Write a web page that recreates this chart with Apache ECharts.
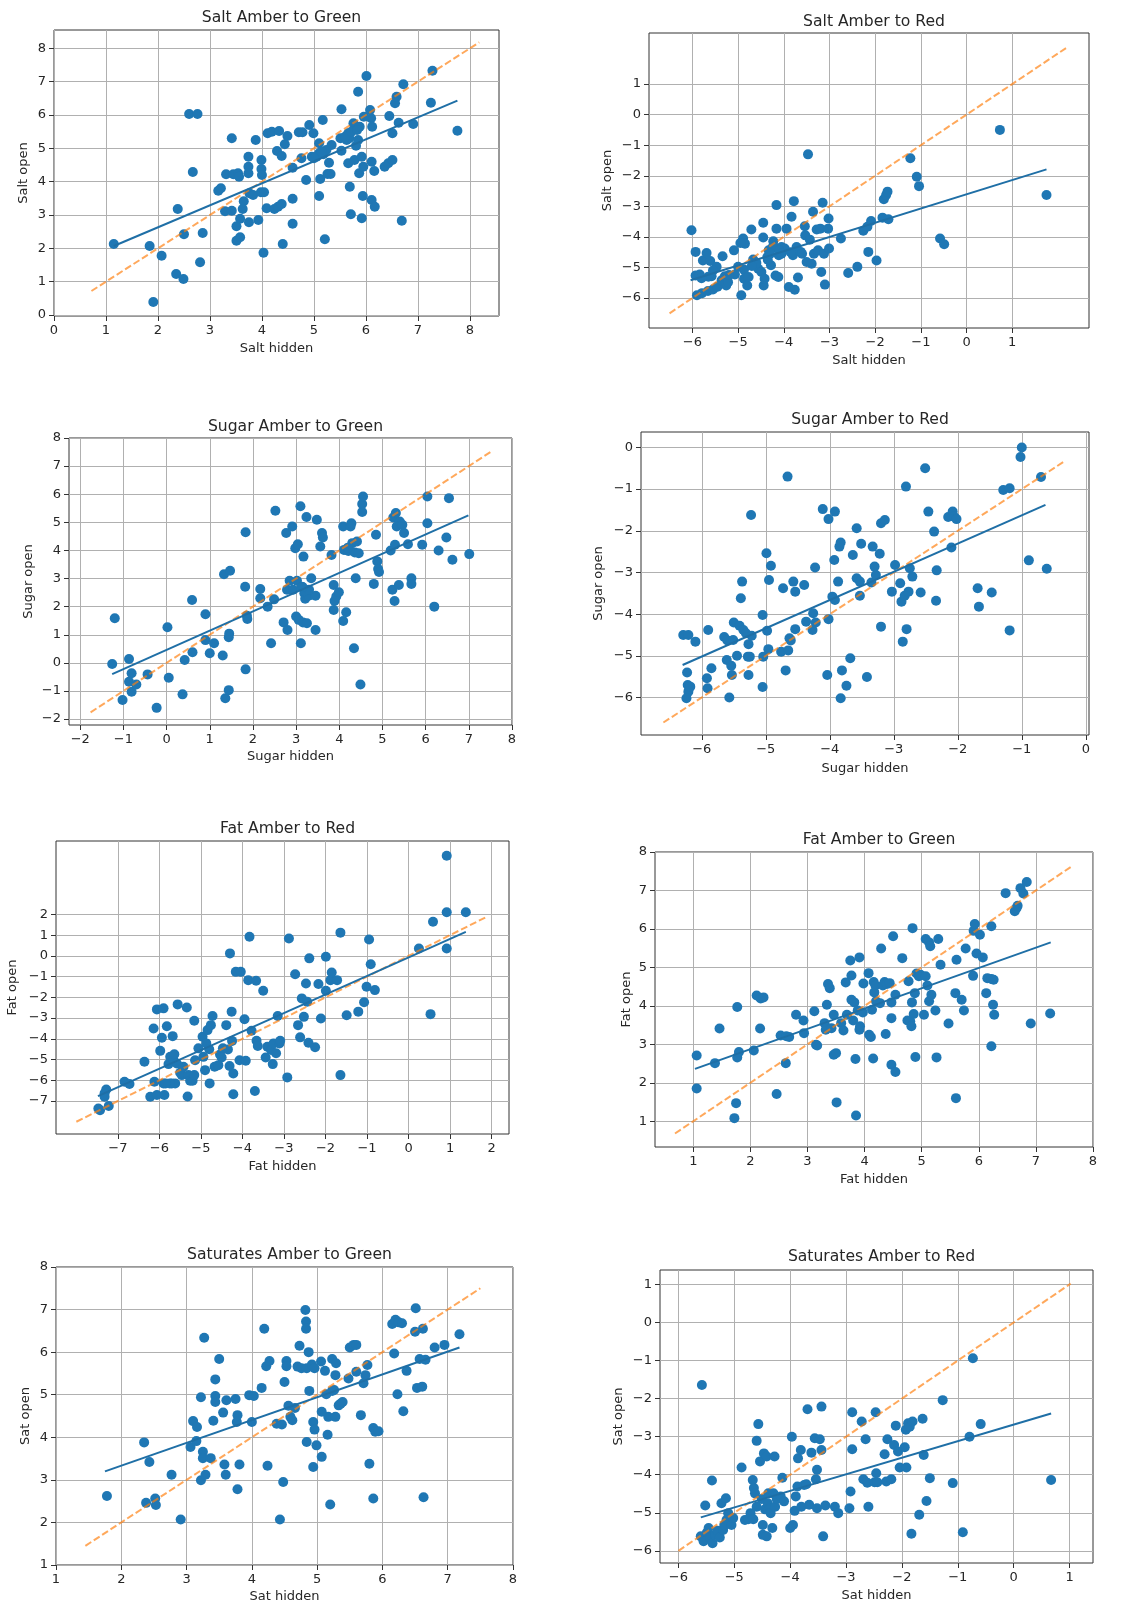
<!DOCTYPE html>
<html>
<head>
<meta charset="utf-8">
<script src="https://cdn.jsdelivr.net/npm/echarts@6/dist/echarts.min.js"></script>
<style>
  html, body { margin: 0; padding: 0; background: #ffffff; }
  #chart { width: 1125px; height: 1608px; }
</style>
</head>
<body>
<div id="chart"></div>
<script>
// ---- Observations: [hidden, open] pairs per panel ----
const saltGreen = [[1.15,2.13],[1.84,2.07],[2.07,1.78],[1.91,0.39],[2.35,1.23],[2.49,1.08],[2.38,3.18],[2.50,2.42],[2.60,6.03],[2.76,6.03],[2.67,4.29],[2.81,1.58],[2.86,2.46],[3.16,3.73],[3.21,3.80],[3.31,4.22],[3.42,5.30],[3.29,3.11],[3.42,3.13],[3.45,4.22],[3.54,4.25],[3.56,4.15],[3.51,2.66],[3.51,2.23],[3.58,2.33],[3.58,2.89],[3.65,3.41],[3.63,3.18],[3.74,4.75],[3.74,4.45],[3.74,4.25],[3.76,3.65],[3.75,2.78],[3.88,5.25],[3.83,3.60],[3.93,2.85],[3.98,3.68],[3.99,4.65],[3.99,4.38],[4.04,3.68],[4.03,1.87],[4.09,3.20],[4.11,5.45],[4.19,5.50],[4.24,3.18],[4.29,4.92],[4.33,5.52],[4.31,3.25],[4.38,3.33],[4.38,4.77],[4.40,2.13],[4.44,5.12],[4.49,5.37],[4.59,4.42],[4.59,3.49],[4.59,2.74],[4.71,5.48],[4.78,5.48],[4.76,4.70],[4.85,4.05],[4.91,5.70],[4.99,5.45],[4.96,4.75],[5.10,5.15],[5.10,4.85],[5.12,4.08],[5.10,3.57],[5.17,5.85],[5.18,4.82],[5.21,2.27],[5.24,4.95],[5.26,4.23],[5.32,4.23],[5.29,4.57],[5.34,5.10],[5.53,6.17],[5.51,5.30],[5.53,4.93],[5.63,5.25],[5.66,5.45],[5.68,5.30],[5.66,4.55],[5.69,3.85],[5.71,3.02],[5.76,5.75],[5.78,4.65],[5.85,6.70],[5.81,5.08],[5.85,5.25],[5.88,5.65],[5.87,4.25],[5.92,4.75],[5.92,2.90],[5.94,3.57],[5.96,5.95],[5.95,4.45],[6.01,7.17],[6.08,6.15],[6.10,5.90],[6.11,4.60],[6.12,5.65],[6.11,3.45],[6.16,4.32],[6.17,3.25],[6.36,4.45],[6.43,4.55],[6.45,5.97],[6.51,4.65],[6.51,5.45],[6.56,6.35],[6.59,6.55],[6.63,5.77],[6.69,2.83],[6.72,6.92],[6.91,5.73],[7.28,7.33],[7.25,6.37],[7.76,5.53],[5.05,4.75],[5.15,4.90],[5.60,5.35],[5.72,5.50],[5.83,5.55],[4.00,4.20],[5.00,4.70]];
const saltRed = [[-6.02,-3.78],[-5.93,-4.49],[-5.93,-5.26],[-5.90,-5.91],[-5.84,-5.23],[-5.79,-5.84],[-5.77,-4.77],[-5.69,-4.53],[-5.66,-5.77],[-5.61,-4.79],[-5.58,-5.29],[-5.55,-5.72],[-5.47,-4.98],[-5.45,-5.63],[-5.36,-5.42],[-5.34,-4.63],[-5.29,-5.29],[-5.26,-5.59],[-5.22,-5.48],[-5.09,-4.44],[-5.07,-5.23],[-5.00,-4.98],[-4.89,-4.05],[-4.85,-4.22],[-4.87,-5.07],[-4.87,-5.37],[-4.93,-5.91],[-4.80,-5.59],[-4.77,-5.31],[-4.71,-3.76],[-4.67,-4.74],[-4.64,-4.88],[-4.56,-5.04],[-4.49,-5.15],[-4.45,-3.54],[-4.45,-4.02],[-4.44,-5.59],[-4.42,-5.37],[-4.36,-4.66],[-4.33,-4.44],[-4.28,-4.93],[-4.23,-4.14],[-4.21,-4.33],[-4.18,-5.26],[-4.16,-2.96],[-4.16,-3.73],[-4.12,-5.31],[-4.11,-4.60],[-4.05,-4.33],[-3.98,-4.38],[-3.94,-3.73],[-3.89,-5.64],[-3.83,-3.34],[-3.80,-4.60],[-3.78,-2.83],[-3.76,-5.73],[-3.72,-4.33],[-3.69,-5.33],[-3.63,-4.49],[-3.54,-3.65],[-3.53,-3.95],[-3.50,-4.82],[-3.47,-1.30],[-3.43,-4.09],[-3.39,-4.88],[-3.36,-3.18],[-3.34,-4.55],[-3.28,-3.76],[-3.25,-4.44],[-3.20,-3.73],[-3.18,-5.15],[-3.15,-2.88],[-3.12,-4.55],[-3.10,-5.56],[-3.03,-3.73],[-3.02,-3.40],[-3.01,-4.38],[-2.75,-4.05],[-2.59,-5.18],[-2.39,-4.98],[-2.26,-3.80],[-2.17,-3.67],[-2.15,-4.49],[-2.09,-3.48],[-1.97,-4.77],[-1.84,-3.37],[-1.81,-2.77],[-1.76,-2.63],[-1.73,-2.52],[-1.71,-3.42],[-1.23,-1.43],[-1.09,-2.03],[-1.04,-2.34],[-0.58,-4.05],[-0.49,-4.24],[0.73,-0.50],[1.75,-2.63],[-4.25,-4.35],[-4.10,-4.45],[-4.35,-4.75],[-4.60,-4.85],[-4.05,-4.55],[-3.85,-4.50],[-3.60,-4.55],[-5.55,-5.10],[-5.65,-5.30],[-5.80,-5.35],[-4.95,-4.20],[-4.70,-4.95],[-5.20,-5.25],[-4.30,-4.55]];
const sugarGreen = [[-1.26,-0.04],[-1.20,1.59],[-1.02,-1.32],[-0.87,0.14],[-0.87,-0.67],[-0.81,-0.37],[-0.81,-1.03],[-0.70,-0.77],[-0.44,-0.41],[-0.23,-1.60],[0.02,1.27],[0.05,-0.53],[0.37,-1.12],[0.42,0.10],[0.59,2.24],[0.60,0.38],[0.90,1.73],[0.90,0.81],[1.00,0.34],[1.10,0.70],[1.30,0.26],[1.33,3.15],[1.36,-1.26],[1.47,3.28],[1.44,-0.97],[1.44,0.91],[1.45,1.04],[1.82,2.71],[1.83,4.65],[1.83,-0.23],[1.86,1.68],[1.87,1.56],[2.17,2.30],[2.17,2.63],[2.34,2.00],[2.42,0.70],[2.49,2.26],[2.52,5.41],[2.71,1.44],[2.77,4.62],[2.79,2.60],[2.80,1.17],[2.85,2.92],[2.91,4.85],[2.93,2.60],[2.98,4.08],[3.00,1.65],[3.04,4.22],[3.02,2.92],[3.06,1.53],[3.10,5.57],[3.11,0.70],[3.13,2.71],[3.16,1.44],[3.17,3.78],[3.19,2.48],[3.21,2.28],[3.24,5.19],[3.25,1.41],[3.29,2.39],[3.35,3.01],[3.45,1.17],[3.45,2.39],[3.48,5.09],[3.56,4.14],[3.60,4.62],[3.62,4.46],[3.82,3.84],[3.87,1.88],[3.87,2.77],[3.89,2.20],[3.93,2.36],[3.99,2.51],[4.09,1.49],[4.09,4.85],[4.11,4.02],[4.16,1.80],[4.21,3.98],[4.26,4.85],[4.28,4.97],[4.30,4.26],[4.34,0.52],[4.36,3.93],[4.38,3.01],[4.41,4.32],[4.45,3.90],[4.49,-0.77],[4.53,5.37],[4.53,5.65],[4.55,5.92],[4.80,2.81],[4.85,4.56],[4.88,3.61],[4.90,3.34],[4.92,3.23],[5.19,4.00],[5.23,2.60],[5.25,5.17],[5.28,2.20],[5.29,4.20],[5.31,5.33],[5.33,4.85],[5.38,2.77],[5.40,5.03],[5.46,4.91],[5.50,4.62],[5.59,4.22],[5.67,3.01],[5.67,2.81],[5.92,4.20],[6.04,5.92],[6.04,4.97],[6.20,2.00],[6.30,4.00],[6.48,4.46],[6.54,5.86],[6.62,3.67],[7.01,3.87],[3.20,2.55],[3.30,2.60],[4.20,4.10],[3.15,2.70]];
const sugarRed = [[-6.29,-4.50],[-6.21,-4.50],[-6.23,-5.40],[-6.22,-5.70],[-6.21,-5.86],[-6.18,-5.74],[-6.24,-6.02],[-6.10,-4.66],[-5.90,-4.38],[-5.92,-5.54],[-5.91,-5.78],[-5.85,-5.30],[-5.65,-4.55],[-5.61,-5.10],[-5.60,-4.63],[-5.57,-6.00],[-5.54,-5.24],[-5.53,-5.46],[-5.51,-4.62],[-5.50,-4.20],[-5.45,-5.00],[-5.41,-4.28],[-5.39,-3.62],[-5.37,-3.22],[-5.35,-4.38],[-5.31,-4.46],[-5.28,-5.02],[-5.27,-4.72],[-5.27,-5.46],[-5.25,-5.02],[-5.23,-1.62],[-5.22,-4.52],[-5.05,-4.02],[-5.04,-5.02],[-5.05,-5.75],[-4.99,-2.54],[-4.98,-4.40],[-4.96,-4.84],[-4.95,-3.18],[-4.92,-2.84],[-4.73,-3.38],[-4.76,-4.90],[-4.69,-5.35],[-4.66,-0.70],[-4.65,-4.87],[-4.63,-4.58],[-4.61,-4.63],[-4.57,-3.22],[-4.54,-3.46],[-4.54,-4.36],[-4.40,-3.30],[-4.37,-4.18],[-4.27,-4.38],[-4.26,-3.98],[-4.23,-2.88],[-4.22,-4.20],[-4.11,-1.48],[-4.04,-5.46],[-4.02,-1.72],[-4.02,-4.12],[-3.96,-3.58],[-3.93,-2.70],[-3.92,-1.54],[-3.92,-3.66],[-3.87,-3.22],[-3.85,-2.38],[-3.83,-2.28],[-3.83,-6.02],[-3.81,-5.35],[-3.74,-5.72],[-3.68,-5.06],[-3.64,-2.58],[-3.58,-1.94],[-3.58,-3.14],[-3.53,-3.56],[-3.53,-3.22],[-3.51,-2.31],[-3.42,-5.51],[-3.35,-3.24],[-3.33,-2.38],[-3.30,-2.86],[-3.28,-3.06],[-3.22,-2.55],[-3.20,-4.30],[-3.20,-1.82],[-3.14,-1.74],[-3.03,-3.46],[-2.98,-2.82],[-2.90,-3.26],[-2.88,-3.70],[-2.86,-4.66],[-2.83,-3.56],[-2.81,-0.94],[-2.80,-4.36],[-2.77,-3.46],[-2.75,-2.90],[-2.71,-3.10],[-2.58,-3.48],[-2.51,-0.50],[-2.46,-1.54],[-2.37,-2.02],[-2.34,-3.68],[-2.33,-2.95],[-2.15,-1.67],[-2.10,-2.40],[-2.08,-1.54],[-2.06,-1.66],[-2.02,-1.72],[-1.69,-3.38],[-1.67,-3.82],[-1.47,-3.48],[-1.29,-1.02],[-1.19,-0.98],[-1.19,-4.39],[-1.02,-0.23],[-1.00,0.00],[-0.89,-2.71],[-0.70,-0.71],[-0.61,-2.91]];
const fatRed = [[-7.47,-7.36],[-7.43,-7.44],[-7.32,-6.63],[-7.28,-6.44],[-7.22,-7.24],[-7.32,-6.79],[-6.84,-6.07],[-6.72,-6.18],[-6.36,-5.11],[-6.22,-6.79],[-6.14,-3.50],[-6.12,-6.07],[-6.06,-2.58],[-6.06,-6.71],[-5.98,-4.58],[-5.94,-3.95],[-5.90,-2.53],[-5.90,-6.15],[-5.88,-6.71],[-5.82,-3.39],[-5.78,-5.22],[-5.74,-4.87],[-5.70,-6.15],[-5.68,-3.87],[-5.66,-5.03],[-5.64,-4.74],[-5.62,-6.15],[-5.58,-5.19],[-5.56,-2.34],[-5.50,-5.64],[-5.46,-5.75],[-5.42,-5.35],[-5.34,-2.49],[-5.32,-6.78],[-5.30,-5.75],[-5.26,-6.02],[-5.20,-6.02],[-5.16,-3.13],[-5.16,-5.75],[-5.14,-5.03],[-5.06,-4.46],[-4.96,-3.90],[-4.94,-4.87],[-4.90,-5.51],[-4.87,-4.22],[-4.84,-3.58],[-4.79,-6.15],[-4.76,-3.34],[-4.72,-2.90],[-4.67,-5.35],[-4.58,-5.27],[-4.54,-4.76],[-4.47,-4.46],[-4.39,-3.34],[-4.35,-4.51],[-4.31,-5.31],[-4.30,0.12],[-4.26,-2.69],[-4.22,-5.67],[-4.22,-6.67],[-4.16,-0.77],[-4.04,-0.77],[-4.07,-5.03],[-3.95,-3.06],[-3.92,-5.06],[-3.86,-1.17],[-3.83,0.92],[-3.78,-3.61],[-3.70,-6.52],[-3.67,-1.20],[-3.66,-4.09],[-3.63,-4.35],[-3.50,-1.68],[-3.44,-4.90],[-3.40,-4.38],[-3.31,-4.54],[-3.27,-5.22],[-3.25,-4.22],[-3.19,-4.70],[-3.15,-2.90],[-3.11,-4.22],[-3.09,-4.09],[-2.92,-5.86],[-2.88,0.84],[-2.73,-0.89],[-2.66,-3.34],[-2.61,-3.93],[-2.57,-2.05],[-2.52,-2.94],[-2.47,-1.33],[-2.44,-2.21],[-2.41,-4.19],[-2.39,-0.12],[-2.25,-4.41],[-2.17,-1.36],[-2.11,-3.02],[-1.99,-0.04],[-1.99,-1.68],[-1.88,-1.17],[-1.85,-0.80],[-1.72,-1.17],[-1.64,1.12],[-1.64,-5.75],[-1.49,-2.86],[-1.21,-2.69],[-1.07,-2.24],[-1.01,-1.49],[-0.95,0.79],[-0.91,-0.40],[-0.81,-1.65],[0.25,0.36],[0.53,-2.81],[0.59,1.65],[0.92,4.83],[0.92,2.10],[0.92,0.36],[1.38,2.10],[-5.75,-6.15],[-5.85,-6.15],[-4.80,-4.50],[-4.50,-4.90],[-4.25,-4.10]];
const fatGreen = [[1.06,2.71],[1.06,1.85],[1.38,2.51],[1.46,3.41],[1.72,1.08],[1.75,1.47],[1.77,3.97],[1.77,2.66],[1.80,2.80],[2.06,2.84],[2.11,4.27],[2.17,3.41],[2.18,4.19],[2.23,4.22],[2.46,1.71],[2.53,3.23],[2.62,2.51],[2.63,3.21],[2.68,3.19],[2.80,3.77],[2.93,3.62],[2.94,3.29],[3.12,3.86],[3.15,2.99],[3.17,2.97],[3.30,3.55],[3.32,3.38],[3.34,4.03],[3.36,4.57],[3.39,4.46],[3.42,3.42],[3.46,2.73],[3.46,3.77],[3.50,2.77],[3.51,1.49],[3.59,3.55],[3.63,3.36],[3.67,4.61],[3.69,3.77],[3.75,5.18],[3.77,4.79],[3.77,4.16],[3.80,3.62],[3.82,4.09],[3.84,2.62],[3.85,1.15],[3.88,3.88],[3.91,5.26],[3.91,3.38],[3.92,3.47],[3.97,3.83],[3.98,4.58],[4.07,4.85],[4.08,3.25],[4.11,3.19],[4.13,3.90],[4.15,2.63],[4.16,4.62],[4.17,4.35],[4.19,4.53],[4.20,4.12],[4.27,4.07],[4.29,5.49],[4.32,4.53],[4.35,4.62],[4.37,3.27],[4.39,4.57],[4.44,4.59],[4.47,4.09],[4.47,3.68],[4.47,2.47],[4.50,5.81],[4.54,2.28],[4.54,4.29],[4.66,5.24],[4.75,3.62],[4.77,4.64],[4.80,3.60],[4.82,3.47],[4.83,4.09],[4.84,6.02],[4.86,3.79],[4.88,4.33],[4.89,2.67],[4.91,4.84],[4.95,4.77],[4.98,4.81],[5.04,3.77],[5.07,5.74],[5.07,4.77],[5.10,4.53],[5.13,5.65],[5.13,4.12],[5.15,5.55],[5.17,4.29],[5.24,3.88],[5.26,2.66],[5.29,5.74],[5.33,5.07],[5.47,3.54],[5.59,4.33],[5.60,1.60],[5.61,5.20],[5.70,4.16],[5.74,3.88],[5.77,5.49],[5.90,4.78],[5.91,5.95],[5.93,6.13],[5.96,5.36],[6.02,5.85],[6.07,5.26],[6.13,4.33],[6.15,4.72],[6.22,6.07],[6.22,4.70],[6.22,2.95],[6.25,4.03],[6.26,4.68],[6.27,3.77],[6.47,6.93],[6.63,6.46],[6.66,6.54],[6.68,6.60],[6.73,7.06],[6.78,6.92],[6.84,7.22],[6.91,3.54],[7.25,3.80]];
const satGreen = [[1.78,2.62],[2.35,3.88],[2.38,2.46],[2.43,3.42],[2.52,2.56],[2.53,2.41],[2.77,3.12],[2.91,2.07],[3.06,3.77],[3.10,4.38],[3.15,3.91],[3.16,4.24],[3.22,2.99],[3.22,4.94],[3.25,3.66],[3.25,3.51],[3.27,6.34],[3.29,3.12],[3.37,3.51],[3.41,4.39],[3.44,5.36],[3.44,4.97],[3.44,4.83],[3.50,5.84],[3.56,4.58],[3.58,3.36],[3.60,3.12],[3.61,4.87],[3.75,4.90],[3.77,4.36],[3.78,4.52],[3.78,2.78],[3.81,3.36],[3.96,4.99],[4.00,4.36],[4.03,4.97],[4.15,5.16],[4.19,6.55],[4.22,5.67],[4.24,3.33],[4.27,5.79],[4.38,4.32],[4.43,2.07],[4.46,4.30],[4.48,2.95],[4.50,5.30],[4.53,5.79],[4.53,5.67],[4.56,4.74],[4.59,4.48],[4.62,4.40],[4.66,4.69],[4.70,5.66],[4.73,6.15],[4.76,5.62],[4.82,6.99],[4.83,6.72],[4.83,6.55],[4.84,5.62],[4.84,3.89],[4.87,6.00],[4.88,5.09],[4.92,5.71],[4.94,3.30],[4.94,4.36],[4.96,4.18],[4.96,5.62],[4.99,3.81],[5.06,5.78],[5.07,4.60],[5.07,3.54],[5.12,5.56],[5.14,5.01],[5.16,4.06],[5.17,4.48],[5.20,2.42],[5.23,5.84],[5.23,5.09],[5.26,5.11],[5.28,5.46],[5.28,4.48],[5.29,5.74],[5.33,4.75],[5.36,4.79],[5.39,4.83],[5.48,5.38],[5.50,6.11],[5.56,6.17],[5.60,6.17],[5.60,5.54],[5.67,4.52],[5.71,5.27],[5.74,5.46],[5.77,5.70],[5.80,3.38],[5.86,4.22],[5.86,2.56],[5.89,4.13],[5.94,4.14],[6.15,6.66],[6.18,5.97],[6.20,6.76],[6.23,5.01],[6.25,6.70],[6.30,6.68],[6.32,4.61],[6.37,5.56],[6.50,6.48],[6.51,7.03],[6.53,5.16],[6.57,5.84],[6.61,5.19],[6.62,6.55],[6.63,2.59],[6.66,5.82],[6.80,6.11],[6.95,6.17],[7.18,6.42]];
const satRed = [[-5.58,-1.64],[-5.60,-5.62],[-5.55,-5.75],[-5.52,-4.81],[-5.49,-5.52],[-5.46,-5.40],[-5.43,-5.67],[-5.40,-4.15],[-5.39,-5.80],[-5.34,-5.58],[-5.30,-5.47],[-5.26,-5.65],[-5.23,-4.75],[-5.20,-5.45],[-5.18,-5.32],[-5.15,-4.62],[-5.14,-5.19],[-5.11,-5.01],[-5.05,-5.32],[-5.02,-5.14],[-4.87,-3.81],[-4.81,-5.19],[-4.75,-5.17],[-4.71,-5.01],[-4.67,-4.14],[-4.66,-5.17],[-4.65,-4.35],[-4.63,-4.49],[-4.60,-4.84],[-4.60,-3.11],[-4.57,-2.67],[-4.54,-3.65],[-4.51,-4.64],[-4.49,-5.32],[-4.49,-5.58],[-4.47,-3.44],[-4.45,-4.91],[-4.42,-3.52],[-4.42,-5.62],[-4.40,-4.75],[-4.39,-4.49],[-4.36,-4.88],[-4.35,-5.01],[-4.32,-5.40],[-4.30,-4.49],[-4.28,-3.52],[-4.27,-4.84],[-4.24,-4.64],[-4.17,-4.57],[-4.14,-4.08],[-4.11,-4.70],[-4.00,-5.40],[-3.97,-3.00],[-3.95,-5.32],[-3.92,-4.95],[-3.90,-4.57],[-3.87,-4.31],[-3.86,-3.57],[-3.81,-3.35],[-3.80,-4.84],[-3.75,-4.27],[-3.71,-4.25],[-3.69,-2.28],[-3.66,-4.79],[-3.62,-3.42],[-3.56,-3.04],[-3.54,-4.12],[-3.52,-3.87],[-3.52,-4.88],[-3.47,-3.07],[-3.44,-2.21],[-3.44,-3.35],[-3.41,-5.62],[-3.37,-4.81],[-3.20,-4.84],[-3.14,-5.01],[-2.94,-4.88],[-2.92,-4.44],[-2.89,-3.33],[-2.89,-2.36],[-2.72,-2.60],[-2.69,-4.12],[-2.65,-3.07],[-2.62,-4.21],[-2.60,-4.84],[-2.49,-4.20],[-2.47,-2.36],[-2.46,-3.96],[-2.44,-4.20],[-2.31,-3.46],[-2.28,-4.18],[-2.26,-3.07],[-2.19,-4.12],[-2.14,-3.22],[-2.11,-2.71],[-2.07,-3.39],[-2.04,-3.81],[-1.95,-3.28],[-1.92,-3.81],[-1.93,-2.82],[-1.89,-2.65],[-1.86,-2.74],[-1.83,-5.55],[-1.81,-2.60],[-1.69,-5.05],[-1.63,-2.53],[-1.61,-3.48],[-1.56,-4.69],[-1.50,-4.09],[-1.27,-2.04],[-1.09,-4.22],[-0.91,-5.51],[-0.79,-3.00],[-0.73,-0.94],[-0.59,-2.67],[0.67,-4.14]];

// ---- Least-squares fit endpoints [[x0,y0],[x1,y1]] ----
const saltGreenFit  = [[1.15, 2.07], [7.76, 6.43]];
const saltRedFit    = [[-6.04, -5.42], [1.75, -1.79]];
const sugarGreenFit = [[-1.26, -0.40], [6.99, 5.25]];
const sugarRedFit   = [[-6.30, -5.22], [-0.63, -1.38]];
const fatRedFit     = [[-7.48, -6.76], [1.38, 1.16]];
const fatGreenFit   = [[1.03, 2.36], [7.26, 5.65]];
const satGreenFit   = [[1.75, 3.20], [7.18, 6.11]];
const satRedFit     = [[-5.60, -5.12], [0.67, -2.39]];

// ---- y = x reference span [from, to] ----
const saltGreenDiag  = [0.72, 8.18];
const saltRedDiag    = [-6.5, 2.23];
const sugarGreenDiag = [-1.76, 7.5];
const sugarRedDiag   = [-6.6, -0.32];
const fatRedDiag     = [-8.0, 1.9];
const fatGreenDiag   = [0.68, 7.64];
const satGreenDiag   = [1.45, 7.5];
const satRedDiag     = [-6.0, 1.02];

// ---- Tick values ----
const ticks0to8   = [0, 1, 2, 3, 4, 5, 6, 7, 8];
const ticksM6to1  = [-6, -5, -4, -3, -2, -1, 0, 1];
const ticksM2to8  = [-2, -1, 0, 1, 2, 3, 4, 5, 6, 7, 8];
const ticksM6to0  = [-6, -5, -4, -3, -2, -1, 0];
const ticksM7to2  = [-7, -6, -5, -4, -3, -2, -1, 0, 1, 2];
const ticks1to8   = [1, 2, 3, 4, 5, 6, 7, 8];

// ---- Panel layout ----
const panels = [
  { title: 'Salt Amber to Green', xName: 'Salt hidden', yName: 'Salt open',
    pts: saltGreen, fit: saltGreenFit, diag: saltGreenDiag, xTicks: ticks0to8, yTicks: ticks0to8,
    x: [0, 8.56], y: [-0.03, 8.55], box: [54, 30, 445, 286], titleY: 15, xGap: 26, yGap: 24 },
  { title: 'Salt Amber to Red', xName: 'Salt hidden', yName: 'Salt open',
    pts: saltRed, fit: saltRedFit, diag: saltRedDiag, xTicks: ticksM6to1, yTicks: ticksM6to1,
    x: [-6.95, 2.68], y: [-6.98, 2.67], box: [649, 33, 440, 295], titleY: 19, xGap: 26, yGap: 35 },
  { title: 'Sugar Amber to Green', xName: 'Sugar hidden', yName: 'Sugar open',
    pts: sugarGreen, fit: sugarGreenFit, diag: sugarGreenDiag, xTicks: ticksM2to8, yTicks: ticksM2to8,
    x: [-2.26, 8.0], y: [-2.21, 8.0], box: [69, 438, 443, 287], titleY: 424, xGap: 25, yGap: 34 },
  { title: 'Sugar Amber to Red', xName: 'Sugar hidden', yName: 'Sugar open',
    pts: sugarRed, fit: sugarRedFit, diag: sugarRedDiag, xTicks: ticksM6to0, yTicks: ticksM6to0,
    x: [-6.95, 0.05], y: [-6.9, 0.37], box: [641, 432, 448, 303], titleY: 417, xGap: 27, yGap: 36 },
  { title: 'Fat Amber to Red', xName: 'Fat hidden', yName: 'Fat open',
    pts: fatRed, fit: fatRedFit, diag: fatRedDiag, xTicks: ticksM7to2, yTicks: ticksM7to2,
    x: [-8.49, 2.42], y: [-8.59, 5.54], box: [56, 841, 453, 293], titleY: 826, xGap: 26, yGap: 37 },
  { title: 'Fat Amber to Green', xName: 'Fat hidden', yName: 'Fat open',
    pts: fatGreen, fit: fatGreenFit, diag: fatGreenDiag, xTicks: ticks1to8, yTicks: ticks1to8,
    x: [0.33, 8.0], y: [0.33, 8.0], box: [655, 852, 438, 295], titleY: 837, xGap: 26, yGap: 22 },
  { title: 'Saturates Amber to Green', xName: 'Sat hidden', yName: 'Sat open',
    pts: satGreen, fit: satGreenFit, diag: satGreenDiag, xTicks: ticks1to8, yTicks: ticks1to8,
    x: [1, 8], y: [1, 8], box: [56, 1267, 457, 298], titleY: 1252, xGap: 25, yGap: 24 },
  { title: 'Saturates Amber to Red', xName: 'Sat hidden', yName: 'Sat open',
    pts: satRed, fit: satRedFit, diag: satRedDiag, xTicks: ticksM6to1, yTicks: ticksM6to1,
    x: [-6.33, 1.42], y: [-6.32, 1.38], box: [660, 1270, 433, 293], titleY: 1254, xGap: 26, yGap: 35 }
];

const FONT = 'DejaVu Sans';
const INK = '#262626';
const BLUE = '#1f77b4';
const fmt = v => (v < 0 ? '\u2212' + Math.abs(v) : String(v));

// Value axis with fixed ticks; kept on the frame edge rather than on zero
function axis(i, ticks, ext, name, gap) {
  return {
    gridIndex: i, type: 'value', min: ext[0], max: ext[1],
    name: name, nameLocation: 'middle', nameGap: gap,
    nameTextStyle: { fontFamily: FONT, fontSize: 13, color: INK },
    axisLine: { show: false, onZero: false },
    axisTick: { show: true, inside: false, length: 5, customValues: ticks, lineStyle: { color: '#333', width: 1 } },
    axisLabel: { customValues: ticks, formatter: fmt, fontFamily: FONT, fontSize: 13, color: INK, margin: 8 },
    splitLine: { show: true, lineStyle: { color: '#b0b0b0', width: 1 } }
  };
}

const option = {
  animation: false,
  backgroundColor: '#ffffff',
  title: panels.map(p => ({
    text: p.title, left: p.box[0] + p.box[2] / 2, top: p.titleY - 10, textAlign: 'center',
    textStyle: { fontFamily: FONT, fontSize: 15.6, fontWeight: 'normal', color: INK }
  })),
  grid: panels.map(p => ({
    left: p.box[0], top: p.box[1], width: p.box[2], height: p.box[3],
    show: true, borderColor: '#333', borderWidth: 1, backgroundColor: 'transparent', containLabel: false
  })),
  xAxis: panels.map((p, i) => axis(i, p.xTicks, p.x, p.xName, p.xGap)),
  yAxis: panels.map((p, i) => axis(i, p.yTicks, p.y, p.yName, p.yGap)),
  series: []
};

panels.forEach((p, i) => {
  option.series.push({
    type: 'scatter', xAxisIndex: i, yAxisIndex: i, data: p.pts,
    symbolSize: 10, itemStyle: { color: BLUE, opacity: 1 }, z: 2, silent: true
  });
  option.series.push({
    type: 'line', xAxisIndex: i, yAxisIndex: i,
    data: [[p.diag[0], p.diag[0]], [p.diag[1], p.diag[1]]],
    showSymbol: false, symbol: 'none', silent: true, z: 3,
    lineStyle: { color: 'rgba(255,127,14,0.68)', width: 2, type: [7, 3] }
  });
  option.series.push({
    type: 'line', xAxisIndex: i, yAxisIndex: i, data: p.fit,
    showSymbol: false, symbol: 'none', silent: true, z: 4,
    lineStyle: { color: '#1f6fa6', width: 2 }
  });
});

const chart = echarts.init(document.getElementById('chart'), null, { renderer: 'canvas' });
chart.setOption(option);
</script>
</body>
</html>
